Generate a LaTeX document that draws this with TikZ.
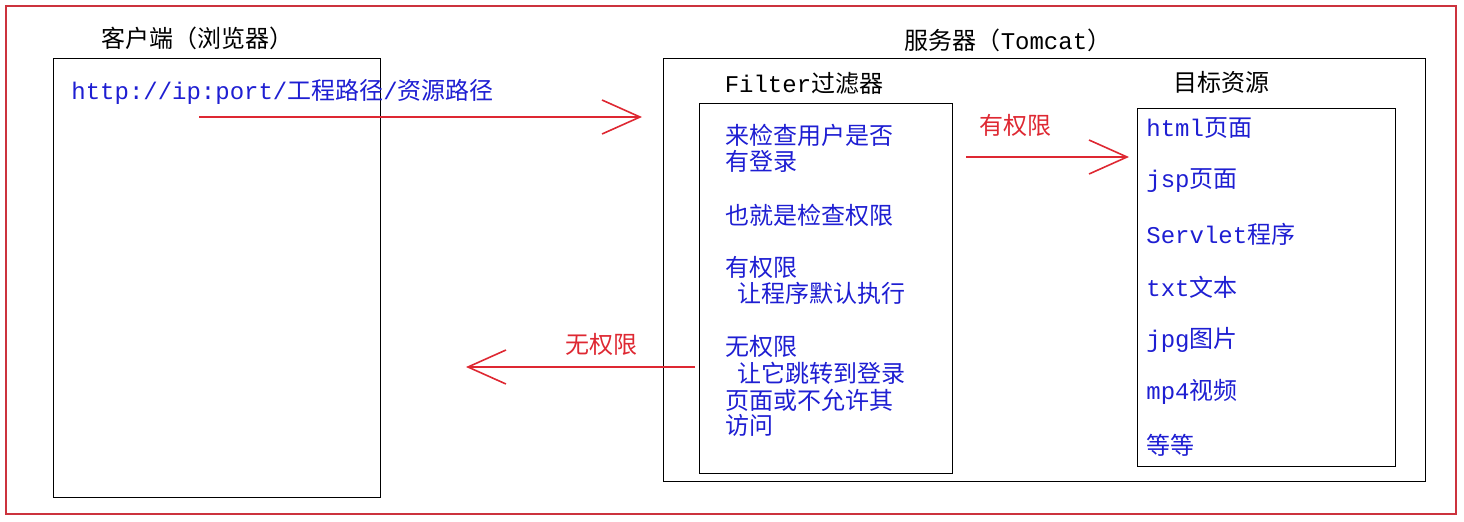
\documentclass[tikz,border=0pt]{standalone}
\usepackage{fontspec}
\setmainfont{Noto Sans CJK SC}
\setmonofont{Liberation Mono}
\usetikzlibrary{arrows.meta}
\definecolor{framered}{RGB}{204,51,61}
\definecolor{flowred}{RGB}{222,40,50}
\definecolor{ink}{RGB}{30,30,210}
\begin{document}
\begin{tikzpicture}[x=0.5pt,y=0.5pt,
  box/.style={draw,line width=0.7pt,inner sep=0pt,anchor=north west},
  title/.style={font=\fontsize{12}{14}\selectfont},
  item/.style={text=ink,anchor=west,inner sep=0pt,font=\fontsize{12}{14}\selectfont},
  flow/.style={draw=flowred,line width=0.8pt,-{Straight Barb[length=19pt,width=17pt]}},
  flowlabel/.style={text=flowred,font=\fontsize{12}{14}\selectfont}]
\useasboundingbox (0,0) rectangle (1464,-521);
\draw[framered,line width=1.2pt] (6,-6) rectangle (1456,-514);
% client side
\node[box,minimum width=163.5pt,minimum height=219.5pt] (client) at (53,-58) {};
\node[title] (clienttitle) at (197,-38) {客户端（浏览器）};
\node[item] (url) at (71,-92) {\texttt{http://ip:port/}工程路径\texttt{/}资源路径};
% server side
\node[box,minimum width=381pt,minimum height=211.5pt] (server) at (663,-58) {};
\node[title] (servertitle) at (1008,-40) {服务器（\texttt{Tomcat}）};
\node[box,minimum width=126.5pt,minimum height=185pt] (filter) at (699,-103) {};
\node[title] (filtertitle) at (804,-83) {\texttt{Filter}过滤器};
\node[box,minimum width=129pt,minimum height=179pt] (target) at (1137,-108) {};
\node[title] (targettitle) at (1221,-82) {目标资源};
% filter text
\node[item] (f1) at (725,-135) {来检查用户是否};
\node[item] (f2) at (725,-161) {有登录};
\node[item] (f3) at (725,-215) {也就是检查权限};
\node[item] (f4) at (725,-267) {有权限};
\node[item] (f5) at (737,-293) {让程序默认执行};
\node[item] (f6) at (725,-346) {无权限};
\node[item] (f7) at (737,-373) {让它跳转到登录};
\node[item] (f8) at (725,-400) {页面或不允许其};
\node[item] (f9) at (725,-425) {访问};
% target resources
\node[item] (t1) at (1146,-128) {\texttt{html}页面};
\node[item] (t2) at (1146,-181) {\texttt{jsp}页面};
\node[item] (t3) at (1146,-234) {\texttt{Servlet}程序};
\node[item] (t4) at (1146,-287) {\texttt{txt}文本};
\node[item] (t5) at (1146,-340) {\texttt{jpg}图片};
\node[item] (t6) at (1146,-392) {\texttt{mp4}视频};
\node[item] (t7) at (1146,-445) {等等};
% arrows
\coordinate (reqstart) at (199,-117);
\coordinate (reqend) at (642,-117);
\coordinate (okstart) at (966,-157);
\coordinate (okend) at (1129,-157);
\coordinate (nostart) at (695,-367);
\coordinate (noend) at (466,-367);
\draw[flow] (reqstart) -- (reqend);
\draw[flow] (okstart) -- (okend);
\draw[flow] (nostart) -- (noend);
\node[flowlabel] (oklabel) at (1015,-125) {有权限};
\node[flowlabel] (nolabel) at (601,-344) {无权限};
\end{tikzpicture}
\end{document}
